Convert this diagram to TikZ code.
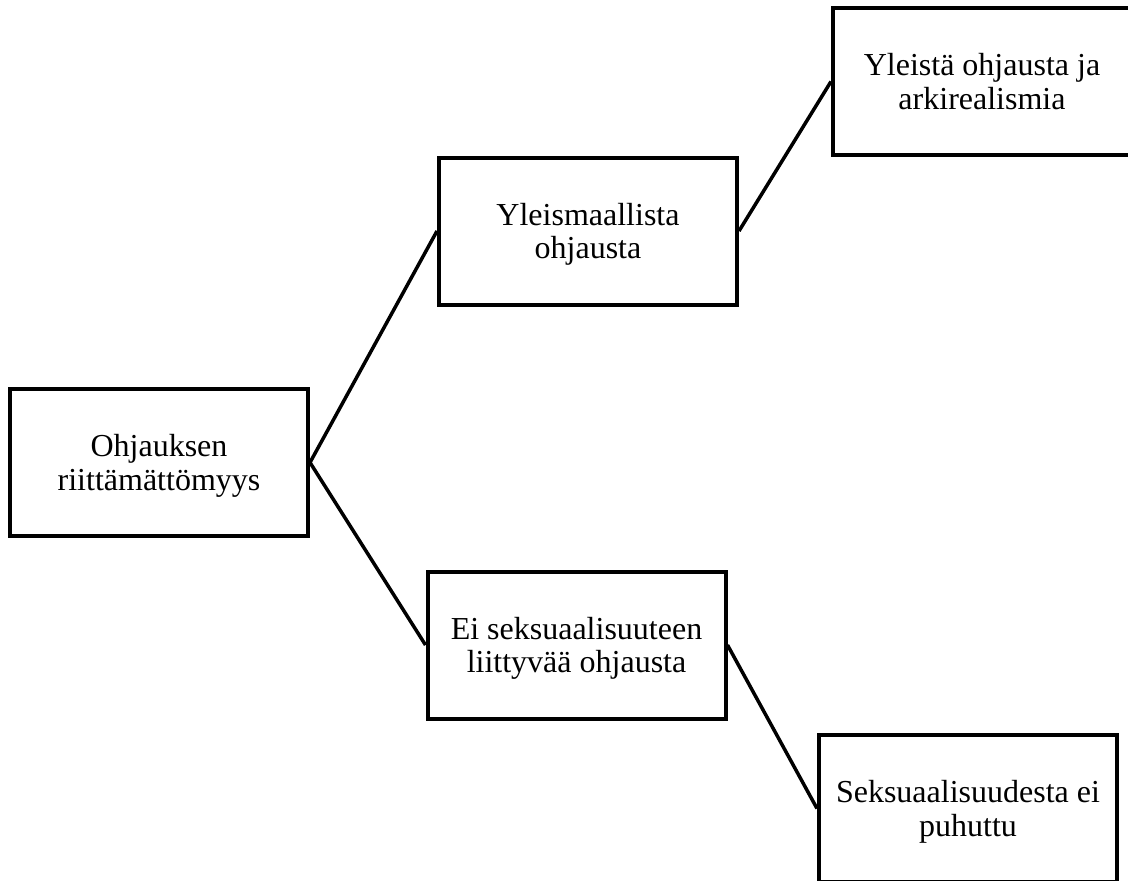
\documentclass[tikz,border=0pt]{standalone}
\usepackage{fontspec}
\setmainfont{Liberation Serif}
\newcommand\mytopstrut{\rule{0pt}{29.5pt}}
\newcommand\mybotstrut{\rule[-8pt]{0pt}{8pt}}
\begin{document}
\begin{tikzpicture}[x=1pt,y=-1pt,
  box/.style={draw=black,line width=4pt,minimum width=298pt,minimum height=147pt,
    align=center,inner sep=0pt,font=\fontsize{32}{33.5}\selectfont},
  conn/.style={draw=black,line width=3.5pt}]
\useasboundingbox (0,0) rectangle (1128,881);
\clip (0,0) rectangle (1128,881);
\node[box] (n1) at (159,462.5) {\mytopstrut Ohjauksen\\riittämättömyys\mybotstrut};
\node[box] (n2) at (588,231) {\mytopstrut Yleismaallista\\ohjausta\mybotstrut};
\node[box] (n3) at (982,81.5) {\mytopstrut Yleistä ohjausta ja\\arkirealismia\mybotstrut};
\node[box] (n4) at (576.5,645) {\mytopstrut Ei seksuaalisuuteen\\liittyvää ohjausta\mybotstrut};
\node[box] (n5) at (968,808.5) {\mytopstrut Seksuaalisuudesta ei\\puhuttu\mybotstrut};
\draw[conn] (n1.east) -- (n2.west);
\draw[conn] (n2.east) -- (n3.west);
\draw[conn] (n1.east) -- (n4.west);
\draw[conn] (n4.east) -- (n5.west);
\end{tikzpicture}
\end{document}
